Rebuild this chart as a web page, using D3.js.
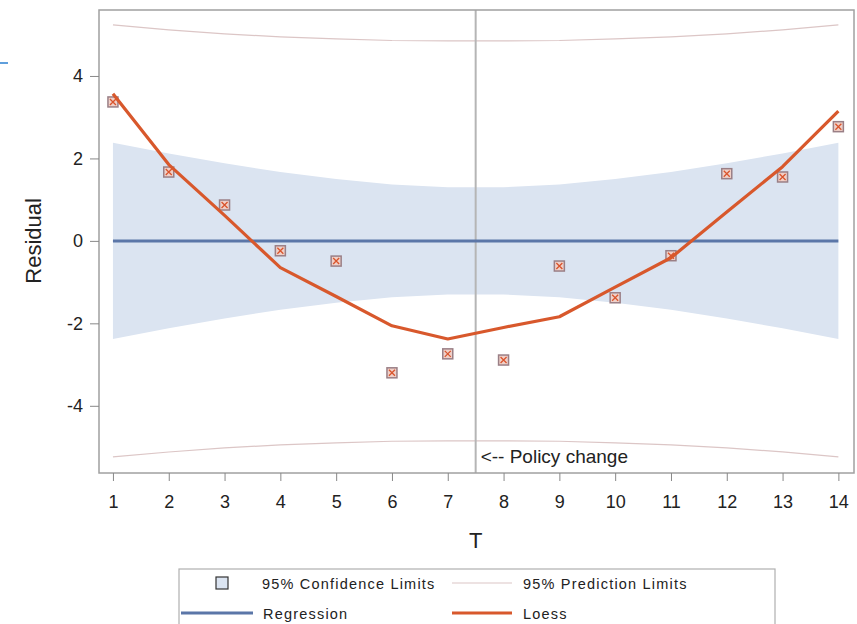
<!DOCTYPE html>
<html>
<head>
<meta charset="utf-8">
<script src="https://cdn.jsdelivr.net/npm/d3@7"></script>
<style>
  body { margin: 0; background: #fff; }
  text { font-family: Arial, "Liberation Sans", sans-serif; }
</style>
</head>
<body>
<div class="chart"></div>
<script>
// chart data
var tValues = [1, 2, 3, 4, 5, 6, 7, 8, 9, 10, 11, 12, 13, 14];
var residuals = [3.37, 1.67, 0.87, -0.24, -0.49, -3.2, -2.74, -2.89, -0.61, -1.38, -0.36, 1.63, 1.55, 2.77];
var loessFit = [3.57, 1.85, 0.62, -0.65, -1.35, -2.06, -2.38, -2.1, -1.84, -1.12, -0.41, 0.7, 1.8, 3.15];
var regressionFit = [0, 0, 0, 0, 0, 0, 0, 0, 0, 0, 0, 0, 0, 0];
var confUpper = [2.38, 2.12, 1.88, 1.67, 1.5, 1.37, 1.3, 1.3, 1.37, 1.5, 1.67, 1.88, 2.12, 2.38];
var predUpper = [5.24, 5.12, 5.02, 4.95, 4.9, 4.86, 4.85, 4.85, 4.86, 4.9, 4.95, 5.02, 5.12, 5.24];
var yTicks = [-4, -2, 0, 2, 4];
var policyT = 7.5;

var svgWidth = 857;
var svgHeight = 624;

var margin = { top: 10, right: 3, bottom: 151, left: 99 };
var width = svgWidth - margin.left - margin.right;
var height = svgHeight - margin.top - margin.bottom;

var svg = d3.select(".chart")
  .append("svg")
  .attr("width", svgWidth)
  .attr("height", svgHeight);

// small blue mark at the top-left edge
svg.append("line")
  .attr("x1", 0).attr("x2", 8)
  .attr("y1", 63).attr("y2", 63)
  .attr("stroke", "#2a7fd0")
  .attr("stroke-width", 1.5);

var chartGroup = svg.append("g")
  .attr("transform", `translate(${margin.left}, ${margin.top})`);

var xScale = d3.scaleLinear()
  .domain([0.75, 14.28])
  .range([0, width]);

var yScale = d3.scaleLinear()
  .domain([-5.63, 5.6])
  .range([height, 0]);

var rows = tValues.map(function(t, i) {
  return {
    t: t,
    r: residuals[i],
    loess: loessFit[i],
    reg: regressionFit[i],
    clU: confUpper[i],
    clL: -confUpper[i],
    plU: predUpper[i],
    plL: -predUpper[i]
  };
});

// confidence band
chartGroup.append("path")
  .datum(rows)
  .attr("fill", "#dbe4f1")
  .attr("d", d3.area()
    .x(d => xScale(d.t))
    .y0(d => yScale(d.clL))
    .y1(d => yScale(d.clU)));

// prediction limits
["plU", "plL"].forEach(function(k) {
  chartGroup.append("path")
    .datum(rows)
    .attr("fill", "none")
    .attr("stroke", "#dcc6c6")
    .attr("stroke-width", 1.2)
    .attr("d", d3.line().x(d => xScale(d.t)).y(d => yScale(d[k])));
});

// policy change reference line
chartGroup.append("line")
  .attr("x1", xScale(policyT)).attr("x2", xScale(policyT))
  .attr("y1", 0).attr("y2", height)
  .attr("stroke", "#b5b5b5")
  .attr("stroke-width", 2);

chartGroup.append("text")
  .attr("x", xScale(policyT) + 5)
  .attr("y", height - 10)
  .attr("font-size", 19)
  .attr("fill", "#222")
  .text("<-- Policy change");

// regression line
chartGroup.append("path")
  .datum(rows)
  .attr("fill", "none")
  .attr("stroke", "#5b76a8")
  .attr("stroke-width", 3)
  .attr("d", d3.line().x(d => xScale(d.t)).y(d => yScale(d.reg)));

// markers
var marks = chartGroup.selectAll("g.mark")
  .data(rows)
  .enter()
  .append("g")
  .attr("class", "mark")
  .attr("transform", d => `translate(${xScale(d.t)}, ${yScale(d.r)})`);

marks.append("rect")
  .attr("x", -5).attr("y", -5)
  .attr("width", 10).attr("height", 10)
  .attr("fill", "#f0d0c8")
  .attr("stroke", "#9a7f86")
  .attr("stroke-width", 1.5);

marks.append("path")
  .attr("d", "M-3,-3L3,3M-3,3L3,-3")
  .attr("stroke", "#d9542c")
  .attr("stroke-width", 1.3);

// loess line
chartGroup.append("path")
  .datum(rows)
  .attr("fill", "none")
  .attr("stroke", "#d8582c")
  .attr("stroke-width", 3.2)
  .attr("stroke-linejoin", "round")
  .attr("d", d3.line().x(d => xScale(d.t)).y(d => yScale(d.loess)));

// frame
chartGroup.append("rect")
  .attr("width", width)
  .attr("height", height)
  .attr("fill", "none")
  .attr("stroke", "#a0a0a0")
  .attr("stroke-width", 1.5);

// axes (plain hyphen for negatives, like the original)
var bottomAxis = d3.axisBottom(xScale).tickValues(tValues).tickSize(8).tickPadding(14)
  .tickFormat(d => String(d));
var leftAxis = d3.axisLeft(yScale).tickValues(yTicks).tickSize(9).tickPadding(7)
  .tickFormat(d => String(d));

var xAxisG = chartGroup.append("g")
  .attr("transform", `translate(0, ${height})`)
  .call(bottomAxis);

var yAxisG = chartGroup.append("g")
  .call(leftAxis);

[xAxisG, yAxisG].forEach(function(g) {
  g.select(".domain").remove();
  g.selectAll(".tick line").attr("stroke", "#888");
  g.selectAll(".tick text")
    .attr("font-size", 18)
    .attr("font-family", "Arial, 'Liberation Sans', sans-serif")
    .attr("fill", "#222");
});

// axis labels
chartGroup.append("text")
  .attr("x", xScale(policyT))
  .attr("y", height + 75)
  .attr("text-anchor", "middle")
  .attr("font-size", 22)
  .attr("fill", "#222")
  .text("T");

chartGroup.append("text")
  .attr("transform", `translate(${-58}, ${yScale(0)}) rotate(-90)`)
  .attr("text-anchor", "middle")
  .attr("font-size", 22)
  .attr("fill", "#222")
  .text("Residual");

// legend
var legend = svg.append("g");

legend.append("rect")
  .attr("x", 179).attr("y", 569)
  .attr("width", 596).attr("height", 60)
  .attr("fill", "#fff")
  .attr("stroke", "#b0b0b0")
  .attr("stroke-width", 1.2);

legend.append("rect")
  .attr("x", 216).attr("y", 577)
  .attr("width", 12).attr("height", 12)
  .attr("fill", "#dbe4f1")
  .attr("stroke", "#333")
  .attr("stroke-width", 1.2);

legend.append("line")
  .attr("x1", 452).attr("x2", 512)
  .attr("y1", 583).attr("y2", 583)
  .attr("stroke", "#dcc6c6")
  .attr("stroke-width", 1.2);

legend.append("line")
  .attr("x1", 181).attr("x2", 253)
  .attr("y1", 613).attr("y2", 613)
  .attr("stroke", "#5b76a8")
  .attr("stroke-width", 3);

legend.append("line")
  .attr("x1", 452).attr("x2", 512)
  .attr("y1", 613).attr("y2", 613)
  .attr("stroke", "#d8582c")
  .attr("stroke-width", 3);

var legendText = [
  { x: 262, y: 589, label: "95% Confidence Limits" },
  { x: 523, y: 589, label: "95% Prediction Limits" },
  { x: 263, y: 619, label: "Regression" },
  { x: 523, y: 619, label: "Loess" }
];

legend.selectAll("text.leg")
  .data(legendText)
  .enter()
  .append("text")
  .attr("class", "leg")
  .attr("x", d => d.x)
  .attr("y", d => d.y)
  .attr("font-size", 14.5)
  .attr("letter-spacing", "1.2px")
  .attr("fill", "#222")
  .text(d => d.label);
</script>
</body>
</html>
